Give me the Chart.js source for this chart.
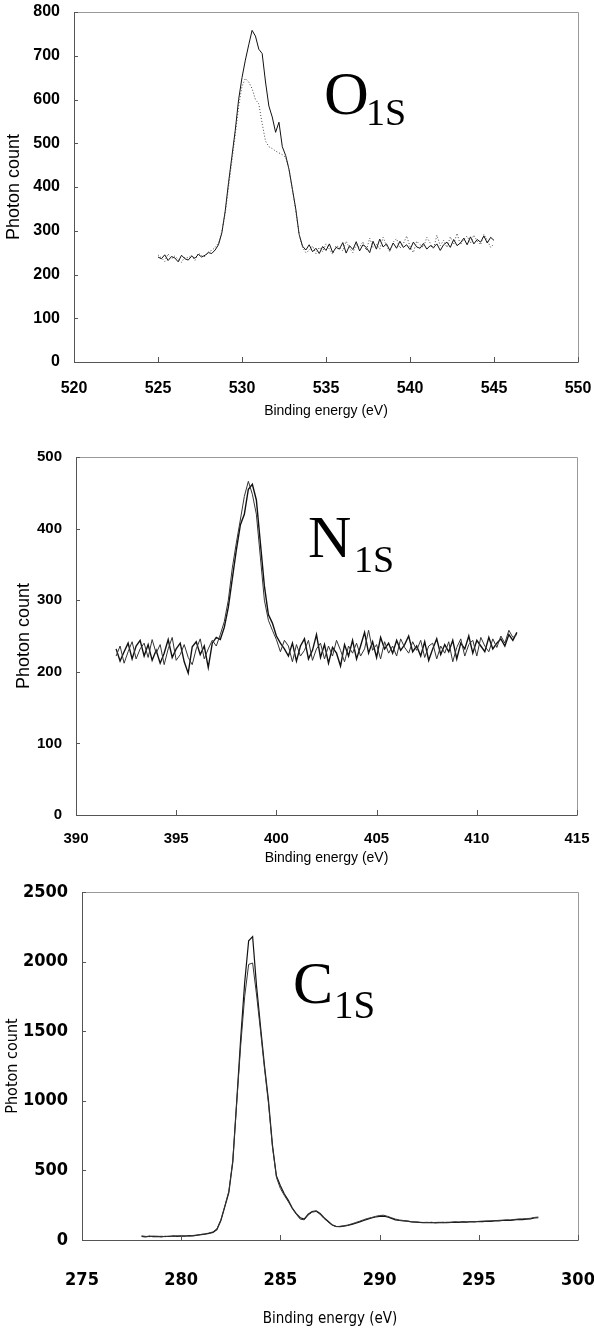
<!DOCTYPE html>
<html>
<head>
<meta charset="utf-8">
<script src="https://cdn.jsdelivr.net/npm/chart.js@4/dist/chart.umd.min.js"></script>
<style>
	body { margin: 0; background: #fff; }
	#page { position: relative; width: 594px; height: 1331px; overflow: hidden; }
	canvas { position: absolute; left: 0; }
	.lbl { position: absolute; font-family: "Liberation Serif", "Times New Roman", serif; line-height: 1; color: #000; white-space: nowrap; }
</style>
</head>
<body>
<div id="page">
	<canvas id="c1" width="594" height="430" style="top:0px"></canvas>
	<canvas id="c2" width="594" height="440" style="top:440px"></canvas>
	<canvas id="c3" width="594" height="451" style="top:880px"></canvas>

	<span class="lbl" style="left:324px; top:62px; font-size:62px;">O</span>
	<span class="lbl" style="left:366px; top:93px; font-size:38px;">1S</span>

	<span class="lbl" style="left:308px; top:507px; font-size:60px;">N</span>
	<span class="lbl" style="left:354px; top:540px; font-size:38px;">1S</span>

	<span class="lbl" style="left:293px; top:953px; font-size:60px;">C</span>
	<span class="lbl" style="left:334px; top:985px; font-size:39px;">1S</span>
</div>
<script>
// O1s spectrum, 525 - 545 eV every 0.2 eV
const o1sStart = 525, o1sStep = 0.2;
const o1sSolid = [
	240,236,245,232,241,238,229,244,236,233,
	242,237,246,240,244,250,248,256,268,295,
	345,410,470,530,600,650,690,725,758,745,
	715,705,640,585,560,525,548,492,472,440,
	395,350,292,265,256,
	268,252,260,248,264,255,270,250,262,258,
	273,249,266,257,275,254,268,262,250,276,
	258,281,263,270,255,272,260,276,262,268,
	257,274,263,260,271,258,266,262,270,255,
	268,274,262,280,266,272,283,268,286,270,
	280,274,288,272,285,278
];
const o1sDotted = [
	245,238,230,247,236,242,235,228,240,238,
	244,232,249,243,241,252,255,262,272,298,
	340,400,460,520,585,630,648,640,625,600,
	590,545,505,492,488,482,478,474,468,440,
	395,345,292,262,250,
	255,265,248,262,252,270,258,246,266,262,
	254,276,260,250,268,262,275,255,283,262,
	270,258,285,266,252,274,282,260,270,288,
	264,250,276,268,262,285,272,258,290,266,
	278,262,286,270,294,268,280,288,272,290,
	276,268,292,278,262,270
];

// N1s spectrum, 392 - 412 eV every 0.2 eV
const n1sStart = 392, n1sStep = 0.2;
const n1sA = [
	232,215,228,240,218,236,244,222,238,216,
	230,212,226,245,220,232,240,214,198,235,
	242,224,236,206,240,248,245,262,290,330,
	370,405,420,455,462,440,380,320,280,268,
	250,240,232,222,240,215,236,246,218,230,
	252,220,238,212,234,226,208,238,222,244,
	218,236,255,226,242,220,248,232,240,226,
	244,230,238,250,228,236,222,242,216,232,
	246,224,238,228,244,218,240,232,250,226,
	244,236,228,248,232,240,246,236,252,244,
	255
];
const n1sB = [
	222,236,212,228,242,218,232,240,220,245,
	226,238,210,232,248,216,224,238,220,210,
	232,246,218,232,244,236,252,270,300,345,
	380,412,445,466,448,420,360,300,272,258,
	245,228,244,236,214,238,222,230,244,216,
	232,240,218,236,222,244,230,214,236,226,
	240,222,232,258,230,238,218,242,226,236,
	222,246,234,226,242,230,244,220,236,240,
	218,236,226,242,214,234,246,222,238,244,
	222,248,236,228,246,234,250,240,258,248,
	252
];

// C1s spectrum, 278 - 298 eV every 0.2 eV
const c1sStart = 278, c1sStep = 0.2;
const c1sA = [
	25,22,28,24,26,23,27,25,29,26,
	30,27,32,30,35,38,42,48,55,75,
	140,240,340,560,1000,1450,1850,2150,2180,1820,
	1530,1250,1000,680,460,390,330,285,230,190,
	160,150,185,205,210,190,160,135,110,98,
	96,100,104,112,120,130,140,150,158,165,
	170,172,165,155,145,140,138,135,130,128,
	126,125,124,126,123,125,127,124,126,128,
	127,130,128,131,130,133,132,135,134,137,
	138,140,142,141,145,148,146,150,152,158,
	160
];
const c1sB = [
	30,26,24,28,25,27,24,28,26,30,
	28,31,29,33,34,40,44,50,58,80,
	145,245,350,570,990,1400,1750,1980,1990,1760,
	1500,1230,980,670,450,370,320,275,225,185,
	150,145,180,200,205,185,155,130,108,96,
	98,102,108,116,126,135,146,155,162,170,
	176,178,170,160,150,144,140,136,132,130,
	128,126,127,125,126,127,125,128,127,130,
	129,131,130,133,132,134,136,135,138,139,
	141,143,145,144,148,150,152,153,156,162,
	165
];

// axis ticks: [min, max, step]
const o1sXTicks = [520, 550, 5], o1sYTicks = [0, 800, 100];
const n1sXTicks = [390, 415, 5], n1sYTicks = [0, 500, 100];
const c1sXTicks = [275, 300, 5], c1sYTicks = [0, 2500, 500];

const xTitle = "Binding energy (eV)";
const yTitle = "Photon count";

function pts(start, step, vals) {
	return vals.map((v, i) => ({x: +(start + step * i).toFixed(2), y: v}));
}

// frame round the plot area plus small inward tick marks
const framePlugin = {
	id: "frame",
	afterDraw(chart) {
		const ctx = chart.ctx;
		const a = chart.chartArea;
		ctx.save();
		ctx.lineWidth = 1;
		ctx.strokeStyle = "#999";
		ctx.beginPath();
		ctx.moveTo(a.left + 0.5, a.top + 0.5);
		ctx.lineTo(a.right + 0.5, a.top + 0.5);
		ctx.lineTo(a.right + 0.5, a.bottom + 0.5);
		ctx.stroke();
		ctx.strokeStyle = "#555";
		ctx.beginPath();
		ctx.moveTo(a.left + 0.5, a.top + 0.5);
		ctx.lineTo(a.left + 0.5, a.bottom + 0.5);
		ctx.lineTo(a.right + 0.5, a.bottom + 0.5);
		ctx.stroke();
		const xs = chart.scales.x, ys = chart.scales.y;
		ctx.beginPath();
		xs.ticks.forEach(t => {
			const px = Math.round(xs.getPixelForValue(t.value)) + 0.5;
			ctx.moveTo(px, a.bottom);
			ctx.lineTo(px, a.bottom - 5);
		});
		ys.ticks.forEach(t => {
			const py = Math.round(ys.getPixelForValue(t.value)) + 0.5;
			ctx.moveTo(a.left, py);
			ctx.lineTo(a.left + 4, py);
		});
		ctx.stroke();
		ctx.restore();
	}
};

function noPad(s) {
	s.paddingTop = 0; s.paddingBottom = 0; s.paddingLeft = 0; s.paddingRight = 0;
}

function makeChart(id, p) {
	const ctx = document.getElementById(id);
	return new Chart(ctx, {
		type: "line",
		data: { datasets: p.datasets },
		options: {
			responsive: false,
			animation: false,
			devicePixelRatio: 1,
			layout: { padding: { top: p.padTop, right: p.padRight, left: 0, bottom: 0 } },
			plugins: { legend: { display: false }, tooltip: { enabled: false } },
			elements: { point: { radius: 0 }, line: { tension: 0 } },
			scales: {
				x: {
					type: "linear",
					min: p.xTicks[0], max: p.xTicks[1],
					afterFit: s => { s.height = p.xHeight; noPad(s); },
					grid: { display: false, drawTicks: false },
					border: { display: false },
					ticks: {
						stepSize: p.xTicks[2], maxRotation: 0, autoSkip: false,
						padding: p.xTickPad, color: "#000",
						font: p.tickFont
					},
					title: {
						display: true, text: xTitle, color: "#000",
						font: p.xTitleFont,
						padding: { top: 0, bottom: p.xTitlePad }
					}
				},
				y: {
					min: p.yTicks[0], max: p.yTicks[1],
					afterFit: s => { s.width = p.yWidth; noPad(s); },
					grid: { display: false, drawTicks: false },
					border: { display: false },
					ticks: {
						stepSize: p.yTicks[2], padding: 14, color: "#000",
						font: p.tickFont,
						callback: v => String(v)
					},
					title: {
						display: true, text: yTitle, color: "#000",
						font: p.yTitleFont,
						padding: { top: p.yTitlePad, bottom: 0 }
					}
				}
			}
		},
		plugins: [framePlugin]
	});
}

const sansBold = (size) => ({ family: "'Liberation Sans', Arial, sans-serif", size: size, weight: "bold", lineHeight: 1 });
const sans = (size) => ({ family: "'Liberation Sans', Arial, sans-serif", size: size, lineHeight: 1 });
const narrowBold = (size) => ({ family: "'DejaVu Sans Condensed', 'Liberation Sans', sans-serif", size: size, weight: "bold", lineHeight: 1 });
const narrow = (size) => ({ family: "'DejaVu Sans Condensed', 'Liberation Sans', sans-serif", size: size, lineHeight: 1 });

makeChart("c1", {
	datasets: [
		{ data: pts(o1sStart, o1sStep, o1sDotted), borderColor: "#444", borderWidth: 1, borderDash: [1, 2] },
		{ data: pts(o1sStart, o1sStep, o1sSolid), borderColor: "#111", borderWidth: 1 }
	],
	xTicks: o1sXTicks, yTicks: o1sYTicks,
	padTop: 12, padRight: 16, yWidth: 74, xHeight: 68,
	xTickPad: 19, xTitlePad: 12, yTitlePad: 5,
	tickFont: sansBold(16), xTitleFont: sans(14), yTitleFont: sans(18)
});

makeChart("c2", {
	datasets: [
		{ data: pts(n1sStart, n1sStep, n1sB), borderColor: "#333", borderWidth: 1 },
		{ data: pts(n1sStart, n1sStep, n1sA), borderColor: "#111", borderWidth: 1.4 }
	],
	xTicks: n1sXTicks, yTicks: n1sYTicks,
	padTop: 17, padRight: 17, yWidth: 76, xHeight: 65,
	xTickPad: 16, xTitlePad: 15, yTitlePad: 15,
	tickFont: sansBold(15), xTitleFont: sans(14), yTitleFont: sans(18)
});

makeChart("c3", {
	datasets: [
		{ data: pts(c1sStart, c1sStep, c1sB), borderColor: "#333", borderWidth: 1 },
		{ data: pts(c1sStart, c1sStep, c1sA), borderColor: "#111", borderWidth: 1.2 }
	],
	xTicks: c1sXTicks, yTicks: c1sYTicks,
	padTop: 12, padRight: 16, yWidth: 82, xHeight: 91,
	xTickPad: 31, xTitlePad: 4, yTitlePad: 5,
	tickFont: narrowBold(18), xTitleFont: narrow(15), yTitleFont: narrow(16)
});
</script>
</body>
</html>
